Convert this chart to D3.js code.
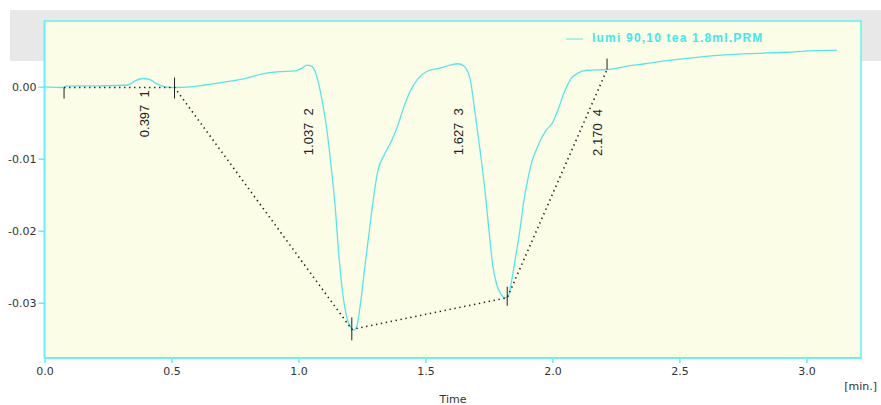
<!DOCTYPE html>
<meta charset="utf-8">
<style>
  body { margin: 0; background: #fff; }
  svg { display: block; }
  .axis text { font-family: "DejaVu Sans", Verdana, sans-serif; font-size: 11px; fill: #333; }
  .axis path, .axis line { stroke: #5ff0f2; stroke-width: 1.5; }
  .peak text { font-family: "Liberation Sans", Arial, sans-serif; font-size: 13px; fill: #222; white-space: pre; }
  .legend text { font-family: "Liberation Sans", Arial, sans-serif; font-size: 12px; font-weight: bold; fill: #3ee8f2; letter-spacing: 1.2px; }
</style>
<body>
</body>
<script src="https://cdn.jsdelivr.net/npm/d3@7"></script>
<script>
  // trace: time [min] / signal
  const time = [
    0.00, 0.077, 0.085, 0.218, 0.329, 0.356, 0.388, 0.415, 0.443, 0.474,
    0.514, 0.573, 0.632, 0.711, 0.789, 0.868, 0.927, 0.986, 1.014, 1.033,
    1.049, 1.065, 1.081, 1.096, 1.112, 1.128, 1.144, 1.159, 1.175, 1.191,
    1.207, 1.219, 1.230, 1.246, 1.262, 1.277, 1.297, 1.313, 1.337, 1.368,
    1.392, 1.411, 1.439, 1.470, 1.509, 1.557, 1.596, 1.628, 1.651, 1.675,
    1.695, 1.715, 1.734, 1.750, 1.765, 1.781, 1.797, 1.813, 1.824, 1.840,
    1.856, 1.872, 1.888, 1.904, 1.919, 1.943, 1.974, 2.002, 2.022, 2.045,
    2.073, 2.100, 2.136, 2.215, 2.285, 2.364, 2.443, 2.569, 2.766, 2.923,
    3.014, 3.120
  ];
  const signal = [
    0.0000, -0.0001, 0.0001, 0.00014, 0.00025, 0.0008, 0.00115, 0.0010, 0.0004, 0.0000,
    -0.0001, 0.0000, 0.00025, 0.00067, 0.00115, 0.00185, 0.0021, 0.0022, 0.0026, 0.0030,
    0.0029, 0.0022, 0.0002, -0.0025, -0.0060, -0.0109, -0.0164, -0.0234, -0.0289, -0.0321,
    -0.0335, -0.0338, -0.0332, -0.0296, -0.0248, -0.0206, -0.0150, -0.0116, -0.0095, -0.0074,
    -0.0053, -0.0032, -0.0007, 0.0011, 0.0022, 0.0026, 0.0030, 0.0032, 0.0029, 0.0012,
    -0.0035, -0.0088, -0.0143, -0.0199, -0.0248, -0.0275, -0.0288, -0.0293, -0.0292, -0.0268,
    -0.0234, -0.0199, -0.0157, -0.0127, -0.0104, -0.0082, -0.0061, -0.0049, -0.0032, -0.0009,
    0.0011, 0.0019, 0.0023, 0.0024, 0.0028, 0.0032, 0.0036, 0.0041, 0.0046, 0.0048,
    0.0050, 0.0051
  ];

  // integration baseline points
  const baseTime = [0.077, 0.512, 1.210, 1.822, 2.215];
  const baseSignal = [-0.0001, -0.0001, -0.0337, -0.0293, 0.0024];

  // peaks: area label, index and label anchor (data units)
  const peakArea = ['0.397', '1.037', '1.627', '2.170'];
  const peakIndex = ['1', '2', '3', '4'];
  const peakLabelTime = [0.411, 1.057, 1.648, 2.195];
  const peakLabelSignal = [-0.0070, -0.0095, -0.0095, -0.0096];

  const xTicks = [0, 0.5, 1.0, 1.5, 2.0, 2.5, 3.0];
  const yTicks = [0, -0.01, -0.02, -0.03];
  const seriesName = 'lumi 90,10 tea 1.8ml.PRM';

  const W = 881, H = 405;
  const pl = 44.5, pr = 861, pt = 21, pb = 358;

  const svg = d3.select('body').append('svg')
    .attr('width', W).attr('height', H);

  const x = d3.scaleLinear().domain([0, 3.215]).range([pl, pr]);
  const y = d3.scaleLinear().domain([-0.03767, 0.00914]).range([pb, pt]);

  // grey band behind the top of the plot
  svg.append('rect')
    .attr('x', 10).attr('y', 10).attr('width', W - 10).attr('height', 51)
    .attr('fill', '#e8e8e8');

  svg.append('rect')
    .attr('x', pl).attr('y', pt).attr('width', pr - pl).attr('height', pb - pt)
    .attr('fill', '#fcfde6')
    .attr('stroke', '#5ff0f2').attr('stroke-width', 1.5);

  const fmtY = d => d === 0 ? '0.00' : d3.format('.2f')(d).replace('−', '-');

  svg.append('g').attr('class', 'axis')
    .attr('transform', `translate(${pl},0)`)
    .call(d3.axisLeft(y).tickValues(yTicks).tickFormat(fmtY).tickSize(6).tickSizeOuter(0).tickPadding(2))
    .call(g => g.select('.domain').attr('d', `M0,${pt}V${pb}`));

  svg.append('g').attr('class', 'axis')
    .attr('transform', `translate(0,${pb})`)
    .call(d3.axisBottom(x).tickValues(xTicks).tickFormat(d3.format('.1f')).tickSize(5).tickSizeOuter(0).tickPadding(4))
    .call(g => g.select('.domain').attr('d', `M${pl},0H${pr}`));

  svg.append('text')
    .attr('x', 453).attr('y', 403)
    .attr('text-anchor', 'middle')
    .style('font-family', '"DejaVu Sans", Verdana, sans-serif')
    .style('font-size', '11px').attr('fill', '#333')
    .text('Time');

  svg.append('text')
    .attr('x', 877).attr('y', 390)
    .attr('text-anchor', 'end')
    .style('font-family', '"DejaVu Sans", Verdana, sans-serif')
    .style('font-size', '11px').attr('fill', '#333')
    .text('[min.]');

  // trace
  const pts = time.map((t, i) => [t, signal[i]]);
  svg.append('path')
    .datum(pts)
    .attr('fill', 'none')
    .attr('stroke', '#52e6ee')
    .attr('stroke-width', 1.3)
    .attr('d', d3.line().x(d => x(d[0])).y(d => y(d[1])).curve(d3.curveMonotoneX));

  // dotted baseline
  const base = baseTime.map((t, i) => [t, baseSignal[i]]);
  svg.append('path')
    .datum(base)
    .attr('fill', 'none')
    .attr('stroke', '#222')
    .attr('stroke-width', 1.6)
    .attr('stroke-dasharray', '1.4,3.6')
    .attr('d', d3.line().x(d => x(d[0])).y(d => y(d[1])));

  // baseline markers
  const markUp = [0, 10, 12, 11, 11];
  const markDown = [11, 11, 11, 8, 0];
  svg.append('g').selectAll('line')
    .data(base)
    .join('line')
    .attr('x1', d => x(d[0])).attr('x2', d => x(d[0]))
    .attr('y1', (d, i) => y(d[1]) - markUp[i])
    .attr('y2', (d, i) => y(d[1]) + markDown[i])
    .attr('stroke', '#222').attr('stroke-width', 1);

  // peak labels
  svg.append('g').attr('class', 'peak')
    .selectAll('text')
    .data(peakArea)
    .join('text')
    .attr('transform', (d, i) => `translate(${x(peakLabelTime[i])},${y(peakLabelSignal[i])}) rotate(-90)`)
    .text((d, i) => `${d}  ${peakIndex[i]}`);

  // legend
  const lg = svg.append('g').attr('class', 'legend');
  lg.append('line')
    .attr('x1', 566).attr('x2', 583).attr('y1', 39).attr('y2', 39)
    .attr('stroke', '#52e6ee').attr('stroke-width', 1);
  lg.append('text').attr('x', 592).attr('y', 42).text(seriesName);
</script>
